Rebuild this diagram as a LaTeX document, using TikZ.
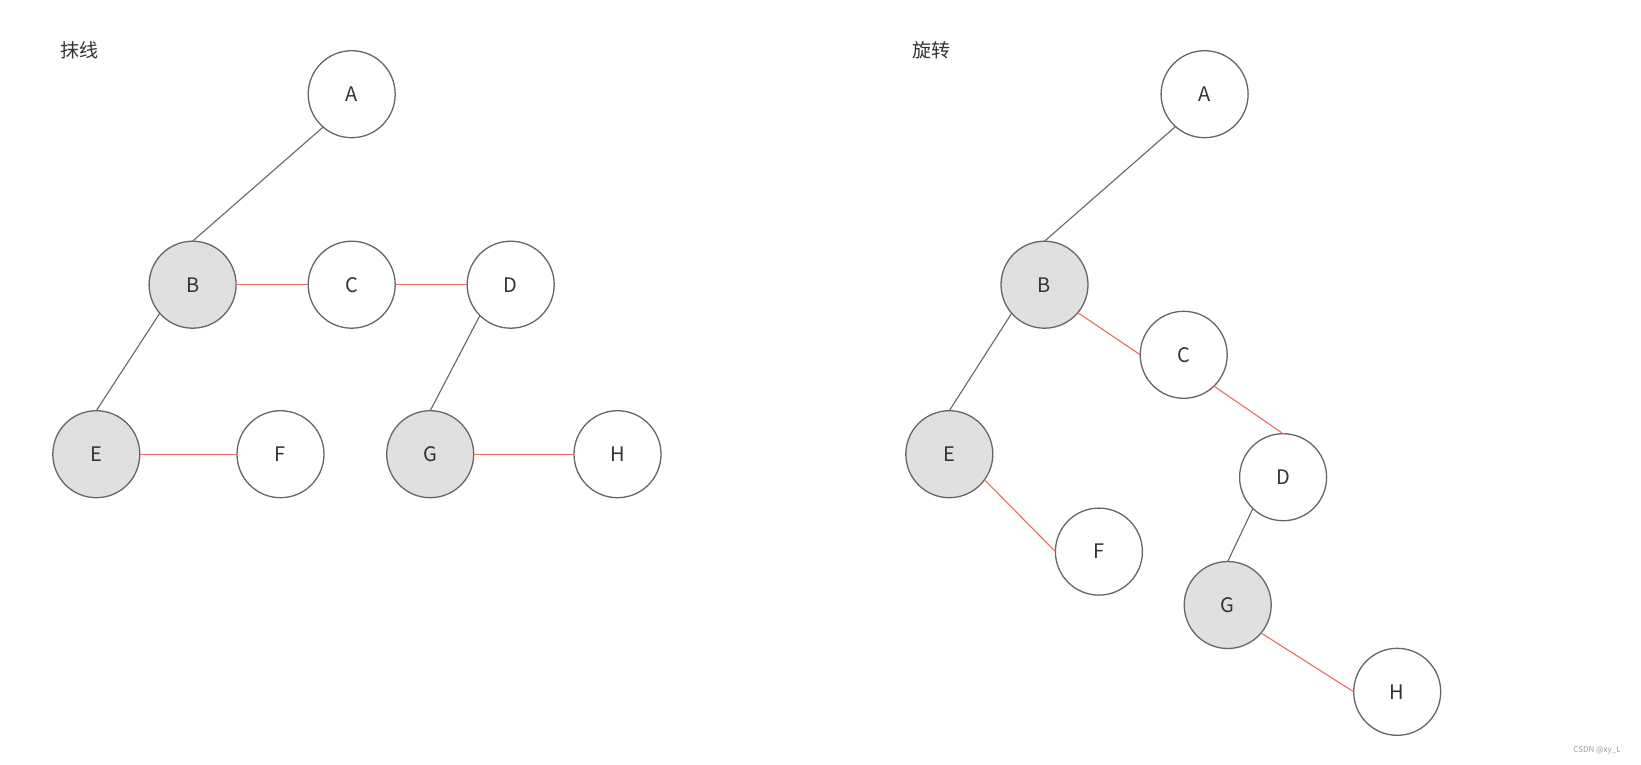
\documentclass[tikz,border=0pt]{standalone}
\usepackage{fontspec}
\setmainfont{Noto Sans CJK SC}
\usepackage{tikz}
\usetikzlibrary{positioning}
\definecolor{linec}{HTML}{666666}
\definecolor{redc}{HTML}{EA6B66}
\definecolor{grayc}{HTML}{E0E0E0}
\definecolor{textc}{HTML}{333333}
\tikzset{
  nd/.style={circle,draw=linec,line width=1.3pt,fill=white,minimum size=87pt,inner sep=0pt,outer sep=0pt,font=\fontsize{20}{24}\selectfont,text=textc},
  gnd/.style={nd,fill=grayc},
  bk/.style={draw=linec,line width=1.1pt},
  rd/.style={draw=redc,line width=1.1pt},
  ttl/.style={font=\fontsize{19}{23}\selectfont,text=textc},
}

\begin{document}
\begin{tikzpicture}[x=1pt,y=-1pt]
  \useasboundingbox (0,0) rectangle (1641,764);
  % left tree
  \node[ttl] (ttlL) at (79.5,50) {抹线};
  \node[nd] (lA) at (351.7,94.2) {A};
  \node[gnd] (lB) at (192.6,284.7) {B};
  \node[nd] (lC) at (351.7,284.7) {C};
  \node[nd] (lD) at (510.7,284.7) {D};
  \node[gnd] (lE) at (96.3,454.2) {E};
  \node[nd] (lF) at (280.5,454.2) {F};
  \node[gnd] (lG) at (430.2,454.2) {G};
  \node[nd] (lH) at (617.5,454.2) {H};
  \draw[bk] (lA.229) -- (lB.north);
  \draw[bk] (lB.221) -- (lE.north);
  \draw[bk] (lD.225) -- (lG.north);
  \foreach \s/\t in {lB/lC,lC/lD,lE/lF,lG/lH} \draw[rd] (\s.east) -- (\t.west);
  % right tree
  \node[ttl] (ttlR) at (931.5,50) {旋转};
  \node[nd] (rA) at (1204.6,94.2) {A};
  \node[gnd] (rB) at (1044.5,284.7) {B};
  \node[nd] (rC) at (1183.7,354.8) {C};
  \node[nd] (rD) at (1283.1,477.2) {D};
  \node[gnd] (rE) at (949.3,454.2) {E};
  \node[nd] (rF) at (1098.9,551.6) {F};
  \node[gnd] (rG) at (1227.7,605) {G};
  \node[nd] (rH) at (1397.2,691.8) {H};
  \draw[bk] (rA.228) -- (rB.north);
  \draw[bk] (rB.221) -- (rE.north);
  \draw[bk] (rD.226) -- (rG.north);
  \draw[rd] (rB.320) -- (rC.west);
  \draw[rd] (rC.314) -- (rD.north);
  \draw[rd] (rE.324) -- (rF.west);
  \draw[rd] (rG.320) -- (rH.west);
  \node[font=\fontsize{8}{9}\selectfont,text=black!40] (mark) at (1597,750) {CSDN @xy\_L};
\end{tikzpicture}
\end{document}
